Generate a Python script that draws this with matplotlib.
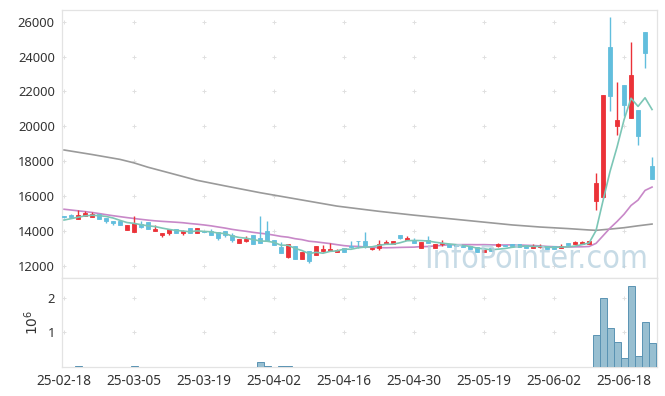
import numpy as np
import pandas as pd
import matplotlib
matplotlib.use("Agg")
import matplotlib.pyplot as plt

# ---------------- data ----------------
tick_labels = ['25-02-18', '25-03-05', '25-03-19', '25-04-02', '25-04-16',
               '25-04-30', '25-05-19', '25-06-02', '25-06-18']

opens = [14830, 14930, 14700, 14870, 14810, 14950, 14740, 14560, 14560, 14060,
         13950, 14390, 14500, 14010, 13740, 13890, 14120, 13890, 14160, 13855,
         14010, 13970, 13930, 13970, 13780, 13320, 13434, 13744, 13590, 14010,
         13474, 13055, 12516, 13130, 12400, 12826, 12593, 12860, 12826, 12770,
         13000, 13150, 13420, 13417, 12960, 13034, 13262, 13226, 13761, 13457,
         13457, 13034, 13457, 13000, 13226, 13262, 13226, 13150, 13112, 13073,
         12769, 12998, 13112, 13180, 13262, 13226, 13186, 13034, 13073, 13112,
         13112, 13034, 13302, 13226, 13226, 13262, 15730, 15960, 24530, 20015,
         22350, 20470, 20930, 25410, 17720]
highs = [14880, 14950, 15180, 15140, 15060, 14960, 14750, 14570, 14570, 14340,
         14830, 14580, 14510, 14335, 13900, 14100, 14130, 14050, 14170, 14170,
         14020, 14090, 13940, 13980, 13890, 13520, 13700, 13750, 14850, 14550,
         13480, 13360, 13250, 13140, 12790, 12830, 13140, 13170, 13320, 12930,
         13010, 13417, 13425, 13916, 13010, 13457, 13492, 13420, 13770, 13680,
         13606, 13350, 13687, 13230, 13450, 13270, 13230, 13160, 13120, 13080,
         12890, 13000, 13300, 13200, 13270, 13230, 13190, 13260, 13260, 13120,
         13120, 13260, 13310, 13390, 13390, 13430, 17300, 21800, 26250, 22540,
         22360, 24830, 20940, 25420, 18250]
lows = [14760, 14800, 14690, 14860, 14800, 14690, 14430, 14330, 14310, 14050,
        13940, 14190, 14110, 14000, 13660, 13780, 13880, 13780, 13880, 13850,
        13920, 13770, 13470, 13630, 13360, 13310, 13360, 13240, 13310, 13390,
        13160, 12740, 12440, 12390, 12390, 12140, 12590, 12780, 12820, 12760,
        12790, 12998, 13000, 13000, 12900, 12880, 13250, 13220, 13560, 13450,
        13300, 13030, 13300, 12990, 13150, 13070, 13120, 13070, 12950, 12800,
        12760, 12840, 13100, 13140, 13140, 13070, 13000, 13000, 13000, 12950,
        12950, 13000, 13180, 13220, 13220, 13250, 15200, 15900, 20890, 19480,
        20590, 20470, 18940, 23340, 16990]
closes = [14800, 14810, 14900, 15000, 14960, 14700, 14580, 14450, 14320, 14330,
          14470, 14200, 14120, 14120, 13890, 14090, 13890, 13970, 13890, 14160,
          13930, 13780, 13610, 13740, 13475, 13510, 13549, 13245, 13320, 13400,
          13170, 12746, 13245, 12400, 12786, 12287, 13130, 12975, 12940, 12920,
          12800, 13080, 13400, 13148, 12995, 13226, 13377, 13417, 13572, 13572,
          13302, 13342, 13302, 13226, 13302, 13073, 13130, 13073, 12958, 12803,
          12881, 12842, 13262, 13150, 13149, 13073, 13010, 13149, 13150, 12960,
          12960, 13149, 13186, 13377, 13377, 13417, 16730, 21790, 21740, 20360,
          21240, 22920, 19440, 24220, 16990]
volumes = [0, 0, 30000, 0, 0, 0, 0, 0, 0, 0,
           30000, 0, 0, 0, 0, 0, 0, 0, 0, 0,
           0, 0, 0, 0, 0, 0, 0, 0, 150000, 30000,
           0, 30000, 30000, 0, 0, 0, 0, 0, 0, 0,
           0, 0, 0, 0, 0, 0, 0, 0, 0, 0,
           0, 0, 0, 0, 0, 0, 0, 0, 0, 0,
           0, 0, 0, 0, 0, 0, 0, 0, 0, 0,
           0, 0, 0, 0, 0, 0, 920000, 1980000, 1120000, 720000,
           260000, 2330000, 320000, 1290000, 690000]

# moving-average values before a full window exists
ma5_head = [14620, 14700, 14780, 14860]
ma20_head = [15240, 15195, 15150, 15105, 15055, 14995, 14930, 14870, 14815, 14760,
             14710, 14660, 14615, 14575, 14545, 14520, 14495, 14465, 14420]
# long moving average (MA120), read at sample days
ma120_day = [0, 4, 8, 10, 12, 15, 19, 23, 28, 31, 35, 39, 45, 50, 55, 60, 64, 68,
             72, 75, 76, 78, 80, 82, 84]
ma120_val = [18640, 18380, 18100, 17900, 17650, 17330, 16900, 16580, 16190, 15980,
             15700, 15420, 15120, 14900, 14700, 14500, 14340, 14220, 14130, 14050,
             14030, 14100, 14180, 14290, 14390]

# ---------------- drawing ----------------
UP = '#eb3238'
DOWN = '#62bedd'
GRID = '#e0e0e0'
SPINE = '#e3e3e3'
TXT = '#333333'

plt.rcParams['font.family'] = ['Noto Sans', 'DejaVu Sans']

fig = plt.figure(figsize=(6.65, 3.96), dpi=100)
ax = fig.add_axes([0.0928, 0.2972, 0.8952, 0.6775])
axv = fig.add_axes([0.0928, 0.0725, 0.8952, 0.2247], sharex=ax)

o = np.array(opens, float)
h = np.array(highs, float)
l = np.array(lows, float)
c = np.array(closes, float)
x = np.arange(len(c))
up = c >= o
cols = np.where(up, UP, DOWN)

# wicks
ax.vlines(x, l, h, colors=cols, linewidth=1.0, zorder=3)
# bodies
ax.bar(x, np.abs(c - o), bottom=np.minimum(o, c), width=0.62, color=cols,
       edgecolor=cols, linewidth=0.6, zorder=4)

# moving averages
cs = pd.Series(c)
ma5 = cs.rolling(5).mean().to_numpy()
ma5[:len(ma5_head)] = ma5_head
ma20 = cs.rolling(20).mean().to_numpy()
ma20[:len(ma20_head)] = ma20_head
ax.plot(ma120_day, ma120_val, color='#9a9a9a', lw=1.2, zorder=2)
ax.plot(x, ma20, color='#c888c8', lw=1.2, zorder=2)
ax.plot(x, ma5, color='#7cc6b6', lw=1.2, zorder=5)

# volume
v = np.array(volumes, float)
m = v > 0
axv.bar(x[m], v[m], width=1.0, color='#98bfd1', edgecolor='#5a93b3',
        linewidth=0.7, zorder=3)

# axes styling
ax.set_xlim(-0.33, 84.71)
ax.set_ylim(11277, 26671)
axv.set_ylim(0, 2.557e6)

yt = np.arange(12000, 26001, 2000)
xt = np.arange(0, len(c), 10)
ax.set_yticks(yt)
ax.set_yticklabels([str(t) for t in yt])
axv.set_yticks([1e6, 2e6])
axv.set_yticklabels(['1', '2'])
axv.set_xticks(xt)
axv.set_xticklabels(tick_labels)
axv.set_ylabel(r'$10^6$', fontsize=10, color=TXT, labelpad=4)

for a in (ax, axv):
    a.tick_params(length=0, labelsize=9.3, labelcolor=TXT, pad=5)
    for s in a.spines.values():
        s.set_color(SPINE)
        s.set_linewidth(0.9)
ax.tick_params(axis='x', labelbottom=False)
axv.tick_params(axis='x', labelsize=9.8)

# '+' grid marks at tick intersections
gx, gy = np.meshgrid(xt, yt)
ax.scatter(gx.ravel(), gy.ravel(), marker='+', s=9, color=GRID, linewidths=0.7, zorder=1)
gx2, gy2 = np.meshgrid(xt, [1e6, 2e6])
axv.scatter(gx2.ravel(), gy2.ravel(), marker='+', s=9, color=GRID, linewidths=0.7, zorder=1)

# watermark
ax.text(0.985, 0.038, 'InfoPointer.com', transform=ax.transAxes, ha='right',
        va='baseline', fontsize=23, fontstretch='condensed', color='#b9d2e0',
        alpha=0.8, zorder=10, family=['DejaVu Sans'])

fig.savefig('out.png', dpi=100)
